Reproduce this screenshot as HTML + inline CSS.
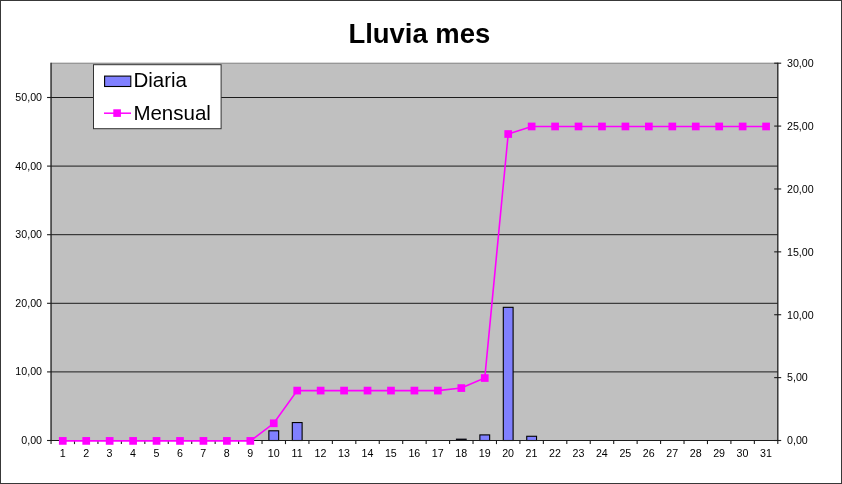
<!DOCTYPE html>
<html><head><meta charset="utf-8"><title>Lluvia mes</title>
<style>html,body{margin:0;padding:0;background:#fff}svg{display:block}</style></head>
<body>
<svg width="842" height="484" viewBox="0 0 842 484" font-family="'Liberation Sans', Arial, sans-serif">
<rect x="0" y="0" width="842" height="484" fill="#fff"/>
<rect x="0.5" y="0.5" width="841" height="483" fill="none" stroke="#383838" stroke-width="1"/>
<rect x="51.05" y="63.2" width="726.75" height="377.30" fill="#c0c0c0" stroke="#808080" stroke-width="1"/>
<g stroke="#1c1c1c" stroke-width="1">
<line x1="51.05" y1="371.90" x2="777.8" y2="371.90"/>
<line x1="51.05" y1="303.30" x2="777.8" y2="303.30"/>
<line x1="51.05" y1="234.70" x2="777.8" y2="234.70"/>
<line x1="51.05" y1="166.10" x2="777.8" y2="166.10"/>
<line x1="51.05" y1="97.50" x2="777.8" y2="97.50"/>
</g>
<rect x="268.86" y="430.80" width="9.8" height="9.70" fill="#8080ff" stroke="#000" stroke-width="1.1"/>
<rect x="292.31" y="422.56" width="9.8" height="17.94" fill="#8080ff" stroke="#000" stroke-width="1.1"/>
<rect x="455.91" y="438.60" width="10.8" height="2.4" fill="#0a0a14"/>
<rect x="479.86" y="434.91" width="9.8" height="5.59" fill="#8080ff" stroke="#000" stroke-width="1.1"/>
<rect x="503.30" y="307.32" width="9.8" height="133.18" fill="#8080ff" stroke="#000" stroke-width="1.1"/>
<rect x="526.74" y="436.28" width="9.8" height="4.22" fill="#8080ff" stroke="#000" stroke-width="1.1"/>
<g stroke="#1c1c1c" stroke-width="1.1">
<line x1="51.05" y1="62.7" x2="51.05" y2="441.0"/>
<line x1="777.8" y1="62.7" x2="777.8" y2="441.0"/>
<line x1="51.05" y1="440.5" x2="777.8" y2="440.5"/>
<line x1="47.05" y1="440.50" x2="51.05" y2="440.50"/>
<line x1="47.05" y1="371.90" x2="51.05" y2="371.90"/>
<line x1="47.05" y1="303.30" x2="51.05" y2="303.30"/>
<line x1="47.05" y1="234.70" x2="51.05" y2="234.70"/>
<line x1="47.05" y1="166.10" x2="51.05" y2="166.10"/>
<line x1="47.05" y1="97.50" x2="51.05" y2="97.50"/>
<line x1="774.20" y1="440.50" x2="781.20" y2="440.50"/>
<line x1="774.20" y1="377.62" x2="781.20" y2="377.62"/>
<line x1="774.20" y1="314.73" x2="781.20" y2="314.73"/>
<line x1="774.20" y1="251.85" x2="781.20" y2="251.85"/>
<line x1="774.20" y1="188.97" x2="781.20" y2="188.97"/>
<line x1="774.20" y1="126.08" x2="781.20" y2="126.08"/>
<line x1="774.20" y1="63.20" x2="781.20" y2="63.20"/>
<line x1="51.05" y1="440.5" x2="51.05" y2="444.1"/>
<line x1="74.49" y1="440.5" x2="74.49" y2="444.1"/>
<line x1="97.94" y1="440.5" x2="97.94" y2="444.1"/>
<line x1="121.38" y1="440.5" x2="121.38" y2="444.1"/>
<line x1="144.82" y1="440.5" x2="144.82" y2="444.1"/>
<line x1="168.27" y1="440.5" x2="168.27" y2="444.1"/>
<line x1="191.71" y1="440.5" x2="191.71" y2="444.1"/>
<line x1="215.15" y1="440.5" x2="215.15" y2="444.1"/>
<line x1="238.60" y1="440.5" x2="238.60" y2="444.1"/>
<line x1="262.04" y1="440.5" x2="262.04" y2="444.1"/>
<line x1="285.49" y1="440.5" x2="285.49" y2="444.1"/>
<line x1="308.93" y1="440.5" x2="308.93" y2="444.1"/>
<line x1="332.37" y1="440.5" x2="332.37" y2="444.1"/>
<line x1="355.82" y1="440.5" x2="355.82" y2="444.1"/>
<line x1="379.26" y1="440.5" x2="379.26" y2="444.1"/>
<line x1="402.70" y1="440.5" x2="402.70" y2="444.1"/>
<line x1="426.15" y1="440.5" x2="426.15" y2="444.1"/>
<line x1="449.59" y1="440.5" x2="449.59" y2="444.1"/>
<line x1="473.03" y1="440.5" x2="473.03" y2="444.1"/>
<line x1="496.48" y1="440.5" x2="496.48" y2="444.1"/>
<line x1="519.92" y1="440.5" x2="519.92" y2="444.1"/>
<line x1="543.36" y1="440.5" x2="543.36" y2="444.1"/>
<line x1="566.81" y1="440.5" x2="566.81" y2="444.1"/>
<line x1="590.25" y1="440.5" x2="590.25" y2="444.1"/>
<line x1="613.70" y1="440.5" x2="613.70" y2="444.1"/>
<line x1="637.14" y1="440.5" x2="637.14" y2="444.1"/>
<line x1="660.58" y1="440.5" x2="660.58" y2="444.1"/>
<line x1="684.03" y1="440.5" x2="684.03" y2="444.1"/>
<line x1="707.47" y1="440.5" x2="707.47" y2="444.1"/>
<line x1="730.91" y1="440.5" x2="730.91" y2="444.1"/>
<line x1="754.36" y1="440.5" x2="754.36" y2="444.1"/>
<line x1="777.80" y1="440.5" x2="777.80" y2="444.1"/>
</g>
<polyline points="62.77,440.90 86.22,440.90 109.66,440.90 133.10,440.90 156.55,440.90 179.99,440.90 203.43,440.90 226.88,440.90 250.32,440.90 273.76,423.29 297.21,390.59 320.65,390.59 344.09,390.59 367.54,390.59 390.98,390.59 414.43,390.59 437.87,390.59 461.31,388.08 484.76,378.02 508.20,134.03 531.64,126.48 555.09,126.48 578.53,126.48 601.97,126.48 625.42,126.48 648.86,126.48 672.30,126.48 695.75,126.48 719.19,126.48 742.63,126.48 766.08,126.48" fill="none" stroke="#ff00ff" stroke-width="1.6"/>
<rect x="58.92" y="437.05" width="7.7" height="7.7" fill="#ff00ff"/>
<rect x="82.37" y="437.05" width="7.7" height="7.7" fill="#ff00ff"/>
<rect x="105.81" y="437.05" width="7.7" height="7.7" fill="#ff00ff"/>
<rect x="129.25" y="437.05" width="7.7" height="7.7" fill="#ff00ff"/>
<rect x="152.70" y="437.05" width="7.7" height="7.7" fill="#ff00ff"/>
<rect x="176.14" y="437.05" width="7.7" height="7.7" fill="#ff00ff"/>
<rect x="199.58" y="437.05" width="7.7" height="7.7" fill="#ff00ff"/>
<rect x="223.03" y="437.05" width="7.7" height="7.7" fill="#ff00ff"/>
<rect x="246.47" y="437.05" width="7.7" height="7.7" fill="#ff00ff"/>
<rect x="269.91" y="419.44" width="7.7" height="7.7" fill="#ff00ff"/>
<rect x="293.36" y="386.74" width="7.7" height="7.7" fill="#ff00ff"/>
<rect x="316.80" y="386.74" width="7.7" height="7.7" fill="#ff00ff"/>
<rect x="340.24" y="386.74" width="7.7" height="7.7" fill="#ff00ff"/>
<rect x="363.69" y="386.74" width="7.7" height="7.7" fill="#ff00ff"/>
<rect x="387.13" y="386.74" width="7.7" height="7.7" fill="#ff00ff"/>
<rect x="410.57" y="386.74" width="7.7" height="7.7" fill="#ff00ff"/>
<rect x="434.02" y="386.74" width="7.7" height="7.7" fill="#ff00ff"/>
<rect x="457.46" y="384.23" width="7.7" height="7.7" fill="#ff00ff"/>
<rect x="480.91" y="374.17" width="7.7" height="7.7" fill="#ff00ff"/>
<rect x="504.35" y="130.18" width="7.7" height="7.7" fill="#ff00ff"/>
<rect x="527.79" y="122.63" width="7.7" height="7.7" fill="#ff00ff"/>
<rect x="551.24" y="122.63" width="7.7" height="7.7" fill="#ff00ff"/>
<rect x="574.68" y="122.63" width="7.7" height="7.7" fill="#ff00ff"/>
<rect x="598.12" y="122.63" width="7.7" height="7.7" fill="#ff00ff"/>
<rect x="621.57" y="122.63" width="7.7" height="7.7" fill="#ff00ff"/>
<rect x="645.01" y="122.63" width="7.7" height="7.7" fill="#ff00ff"/>
<rect x="668.45" y="122.63" width="7.7" height="7.7" fill="#ff00ff"/>
<rect x="691.90" y="122.63" width="7.7" height="7.7" fill="#ff00ff"/>
<rect x="715.34" y="122.63" width="7.7" height="7.7" fill="#ff00ff"/>
<rect x="738.78" y="122.63" width="7.7" height="7.7" fill="#ff00ff"/>
<rect x="762.23" y="122.63" width="7.7" height="7.7" fill="#ff00ff"/>
<g font-size="10.67" fill="#000">
<text x="42" y="443.9" text-anchor="end">0,00</text>
<text x="42" y="375.3" text-anchor="end">10,00</text>
<text x="42" y="306.7" text-anchor="end">20,00</text>
<text x="42" y="238.1" text-anchor="end">30,00</text>
<text x="42" y="169.5" text-anchor="end">40,00</text>
<text x="42" y="100.9" text-anchor="end">50,00</text>
<text x="787.0" y="444.3">0,00</text>
<text x="787.0" y="381.4">5,00</text>
<text x="787.0" y="318.5">10,00</text>
<text x="787.0" y="255.7">15,00</text>
<text x="787.0" y="192.8">20,00</text>
<text x="787.0" y="129.9">25,00</text>
<text x="787.0" y="67.0">30,00</text>
<text x="62.67" y="457" text-anchor="middle">1</text>
<text x="86.12" y="457" text-anchor="middle">2</text>
<text x="109.56" y="457" text-anchor="middle">3</text>
<text x="133.00" y="457" text-anchor="middle">4</text>
<text x="156.45" y="457" text-anchor="middle">5</text>
<text x="179.89" y="457" text-anchor="middle">6</text>
<text x="203.33" y="457" text-anchor="middle">7</text>
<text x="226.78" y="457" text-anchor="middle">8</text>
<text x="250.22" y="457" text-anchor="middle">9</text>
<text x="273.66" y="457" text-anchor="middle">10</text>
<text x="297.11" y="457" text-anchor="middle">11</text>
<text x="320.55" y="457" text-anchor="middle">12</text>
<text x="343.99" y="457" text-anchor="middle">13</text>
<text x="367.44" y="457" text-anchor="middle">14</text>
<text x="390.88" y="457" text-anchor="middle">15</text>
<text x="414.32" y="457" text-anchor="middle">16</text>
<text x="437.77" y="457" text-anchor="middle">17</text>
<text x="461.21" y="457" text-anchor="middle">18</text>
<text x="484.66" y="457" text-anchor="middle">19</text>
<text x="508.10" y="457" text-anchor="middle">20</text>
<text x="531.54" y="457" text-anchor="middle">21</text>
<text x="554.99" y="457" text-anchor="middle">22</text>
<text x="578.43" y="457" text-anchor="middle">23</text>
<text x="601.87" y="457" text-anchor="middle">24</text>
<text x="625.32" y="457" text-anchor="middle">25</text>
<text x="648.76" y="457" text-anchor="middle">26</text>
<text x="672.20" y="457" text-anchor="middle">27</text>
<text x="695.65" y="457" text-anchor="middle">28</text>
<text x="719.09" y="457" text-anchor="middle">29</text>
<text x="742.53" y="457" text-anchor="middle">30</text>
<text x="765.98" y="457" text-anchor="middle">31</text>
</g>
<text x="419.3" y="42.5" text-anchor="middle" font-size="27.45" font-weight="bold" fill="#000">Lluvia mes</text>
<rect x="93.5" y="64.7" width="127.6" height="64" fill="#fff" stroke="#333" stroke-width="1"/>
<rect x="104.6" y="76.1" width="26.2" height="10.4" fill="#8080ff" stroke="#000" stroke-width="1.1"/>
<line x1="104" y1="113.2" x2="131" y2="113.2" stroke="#ff00ff" stroke-width="1.5"/>
<rect x="113.3" y="109.3" width="7.6" height="7.6" fill="#ff00ff"/>
<text x="133.4" y="87.3" font-size="20.5" fill="#000">Diaria</text>
<text x="133.4" y="119.9" font-size="20.5" fill="#000">Mensual</text>
</svg>
</body></html>
